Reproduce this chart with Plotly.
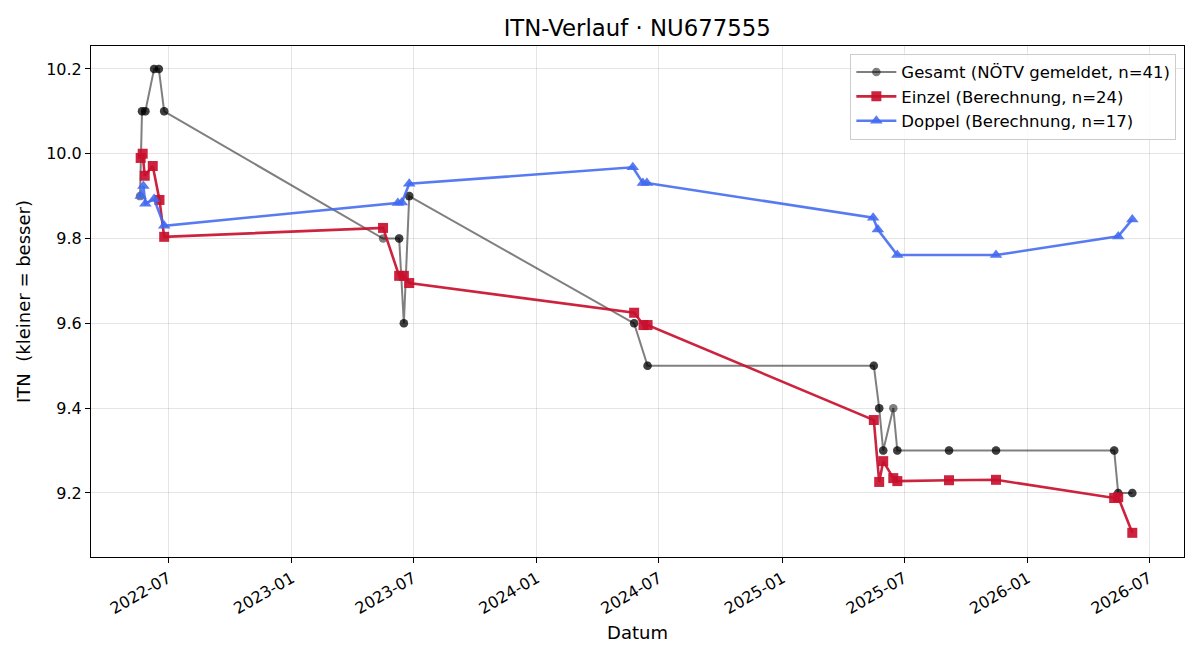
import plotly.graph_objects as go

# Gesamt (NÖTV gemeldet) - duplicates listed where several reports share a date
g_dates = ["2022-05-20", "2022-05-23", "2022-05-23", "2022-05-28", "2022-05-28",
           "2022-06-10", "2022-06-10", "2022-06-17", "2022-06-17", "2022-06-25", "2022-06-25",
           "2023-05-17", "2023-06-10", "2023-06-10", "2023-06-17", "2023-06-17",
           "2023-06-25", "2023-06-25", "2024-05-25", "2024-05-25", "2024-06-14", "2024-06-14",
           "2025-05-17", "2025-05-17", "2025-05-25", "2025-05-25", "2025-05-31", "2025-05-31",
           "2025-06-15", "2025-06-21", "2025-06-21", "2025-09-06", "2025-09-06",
           "2025-11-15", "2025-11-15", "2026-05-10", "2026-05-10", "2026-05-16", "2026-05-16",
           "2026-06-06", "2026-06-06"]
g_vals = [9.9, 10.1, 10.1, 10.1, 10.1,
          10.2, 10.2, 10.2, 10.2, 10.1, 10.1,
          9.8, 9.8, 9.8, 9.6, 9.6,
          9.9, 9.9, 9.6, 9.6, 9.5, 9.5,
          9.5, 9.5, 9.4, 9.4, 9.3, 9.3,
          9.4, 9.3, 9.3, 9.3, 9.3,
          9.3, 9.3, 9.3, 9.3, 9.2, 9.2,
          9.2, 9.2]

# Einzel (Berechnung)
e_dates = ["2022-05-21", "2022-05-24", "2022-05-27", "2022-06-08", "2022-06-18", "2022-06-25",
           "2023-05-17", "2023-06-10", "2023-06-17", "2023-06-25",
           "2024-05-25", "2024-06-08", "2024-06-14",
           "2025-05-17", "2025-05-25", "2025-05-31", "2025-06-15", "2025-06-21",
           "2025-09-06", "2025-11-15",
           "2026-05-10", "2026-05-16", "2026-06-06"]
e_vals = [9.990, 10.000, 9.948, 9.971, 9.891, 9.804,
          9.825, 9.712, 9.712, 9.695,
          9.625, 9.596, 9.596,
          9.372, 9.226, 9.275, 9.235, 9.228,
          9.230, 9.231,
          9.188, 9.190, 9.106]

# Doppel (Berechnung)
d_dates = ["2022-05-21", "2022-05-25", "2022-05-28", "2022-06-10", "2022-06-25",
           "2023-06-08", "2023-06-14", "2023-06-25",
           "2024-05-23", "2024-06-07", "2024-06-13",
           "2025-05-16", "2025-05-23", "2025-06-21",
           "2025-11-15",
           "2026-05-16", "2026-06-06"]
d_vals = [9.900, 9.924, 9.882, 9.893, 9.830,
          9.884, 9.885, 9.929,
          9.968, 9.931, 9.931,
          9.849, 9.821, 9.761,
          9.761,
          9.805, 9.845]

x_ticks = ["2022-07-01", "2023-01-01", "2023-07-01", "2024-01-01", "2024-07-01",
           "2025-01-01", "2025-07-01", "2026-01-01", "2026-07-01"]
x_ticktext = ["2022-07", "2023-01", "2023-07", "2024-01", "2024-07",
              "2025-01", "2025-07", "2026-01", "2026-07"]
y_ticks = [9.2, 9.4, 9.6, 9.8, 10.0, 10.2]

FONT = "DejaVu Sans"

fig = go.Figure()
fig.add_trace(go.Scatter(
    x=g_dates, y=g_vals, mode="lines+markers",
    name="Gesamt (NÖTV gemeldet, n=41)",
    line=dict(color="rgba(0,0,0,0.5)", width=2),
    marker=dict(symbol="circle", size=8.5, color="rgba(0,0,0,0.5)", line=dict(width=0)),
))
fig.add_trace(go.Scatter(
    x=e_dates, y=e_vals, mode="lines+markers",
    name="Einzel (Berechnung, n=24)",
    line=dict(color="rgba(200,16,46,0.92)", width=2.6),
    marker=dict(symbol="square", size=10, color="rgba(200,16,46,0.92)", line=dict(width=0)),
))
fig.add_trace(go.Scatter(
    x=d_dates, y=d_vals, mode="lines+markers",
    name="Doppel (Berechnung, n=17)",
    line=dict(color="rgba(65,105,240,0.88)", width=2.6),
    marker=dict(symbol="triangle-up", size=11, color="rgba(65,105,240,0.88)", line=dict(width=0)),
))

fig.update_layout(
    width=1200, height=660,
    paper_bgcolor="white", plot_bgcolor="white",
    margin=dict(l=91, r=16, t=46, b=103),
    font=dict(family=FONT, size=16, color="black"),
    title=dict(text="ITN-Verlauf · NU677555", x=0.531, xanchor="center",
               y=0.958, yanchor="middle", font=dict(family=FONT, size=22.8, color="black")),
    showlegend=True,
    legend=dict(x=0.993, y=0.985, xanchor="right", yanchor="top",
                bgcolor="rgba(255,255,255,0.85)", bordercolor="#cccccc", borderwidth=1,
                font=dict(family=FONT, size=16.5), itemwidth=40),
)
fig.update_xaxes(
    type="date", range=["2022-03-08", "2026-08-22"],
    tickvals=x_ticks, ticktext=x_ticktext, tickangle=-30,
    showgrid=True, gridcolor="rgba(0,0,0,0.1)", gridwidth=1,
    showline=True, linecolor="black", linewidth=1, mirror=True,
    ticks="outside", ticklen=5, tickcolor="black",
    tickfont=dict(family=FONT, size=16),
    title=dict(text="Datum", font=dict(family=FONT, size=18), standoff=9),
    zeroline=False,
)
fig.update_yaxes(
    range=[9.049, 10.254], tickvals=y_ticks, tickformat=".1f",
    showgrid=True, gridcolor="rgba(0,0,0,0.1)", gridwidth=1,
    showline=True, linecolor="black", linewidth=1, mirror=True,
    ticks="outside", ticklen=5, tickcolor="black",
    tickfont=dict(family=FONT, size=16),
    title=dict(text="ITN\u00a0 (kleiner = besser)", font=dict(family=FONT, size=18), standoff=10),
    zeroline=False,
)

fig.write_html("out.html")
